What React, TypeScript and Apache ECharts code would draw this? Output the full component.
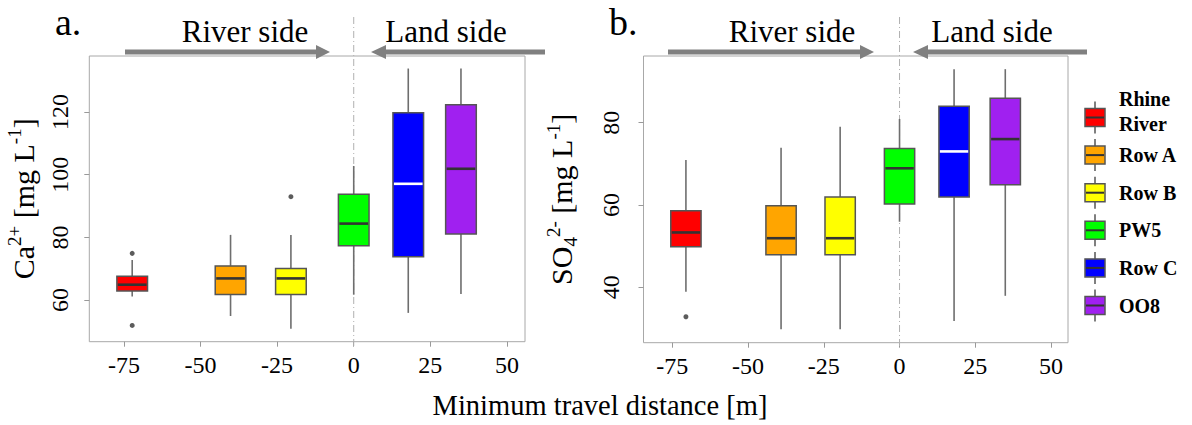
import React, { useEffect, useRef } from "react";
import * as echarts from "echarts";

// ---------- data ----------
const groups = ["Rhine River", "Row A", "Row B", "PW5", "Row C", "OO8"];
const legendLabels = ["Rhine\nRiver", "Row A", "Row B", "PW5", "Row C", "OO8"];
const boxColors = ["#FF0000", "#FFA500", "#FFFF00", "#00FF00", "#0000FF", "#A020F0"];
const medianColors = ["#333333", "#333333", "#333333", "#333333", "#FFFFFF", "#333333"];

// panel a: Ca2+
const caPositions = [-72.3, -40.2, -20.5, 0, 17.8, 35.0];
const caMin = [61.1, 54.9, 50.8, 61.7, 55.9, 61.9];
const caQ1 = [62.9, 61.8, 61.8, 77.3, 73.8, 81.1];
const caMedian = [64.9, 66.9, 66.9, 84.4, 97.1, 101.9];
const caQ3 = [67.6, 70.9, 70.1, 93.8, 119.8, 122.3];
const caMax = [72.8, 80.8, 80.8, 102.8, 133.9, 133.9];
const caOutlierGroup = [0, 0, 2];
const caOutlierValue = [74.9, 51.9, 93.0];

// panel b: SO4 2-
const so4Positions = [-70.5, -39.1, -19.6, 0, 18.0, 34.9];
const so4Min = [38.9, 29.8, 29.8, 55.9, 31.8, 37.9];
const so4Q1 = [49.8, 47.9, 47.9, 60.2, 61.9, 64.9];
const so4Median = [53.3, 51.9, 51.9, 68.9, 73.0, 76.0];
const so4Q3 = [58.6, 59.8, 61.9, 73.7, 84.0, 85.9];
const so4Max = [70.9, 73.9, 79.0, 80.9, 93.0, 93.0];
const so4OutlierGroup = [0];
const so4OutlierValue = [32.8];

// ticks
const xTicks = [-75, -50, -25, 0, 25, 50];
const caTicks = [60, 80, 100, 120];
const so4Ticks = [40, 60, 80];

// ---------- style constants ----------
const FONT = "Liberation Serif, Times New Roman, serif";
const BOX_WIDTH = 10;
const FRAME = "#a8a8a8";
const TICK = "#999999";
const ARROW = "#808080";

const tickRich = { t: { fontFamily: FONT, fontSize: 24, color: "#000" } };

function boxSeries(axisIndex: number, pos: number[], mn: number[], q1: number[], md: number[], q3: number[], mx: number[]) {
  return {
    type: "custom",
    xAxisIndex: axisIndex,
    yAxisIndex: axisIndex,
    silent: true,
    z: 3,
    encode: { x: 0, y: [1, 2, 3, 4, 5] },
    data: pos.map((p, i) => [p, mn[i], q1[i], md[i], q3[i], mx[i], i]),
    renderItem: (_params: any, api: any) => {
      const x = api.value(0);
      const idx = api.value(6);
      const pLo = api.coord([x, api.value(1)]);
      const pQ1 = api.coord([x, api.value(2)]);
      const pMed = api.coord([x, api.value(3)]);
      const pQ3 = api.coord([x, api.value(4)]);
      const pHi = api.coord([x, api.value(5)]);
      const w = api.size([BOX_WIDTH, 0])[0];
      const cx = pMed[0];
      const wh = { stroke: "#6e6e6e", lineWidth: 1.6 };
      return {
        type: "group",
        children: [
          { type: "line", shape: { x1: cx, y1: pLo[1], x2: cx, y2: pQ1[1] }, style: wh },
          { type: "line", shape: { x1: cx, y1: pQ3[1], x2: cx, y2: pHi[1] }, style: wh },
          {
            type: "rect",
            shape: { x: cx - w / 2, y: pQ3[1], width: w, height: pQ1[1] - pQ3[1] },
            style: { fill: boxColors[idx], stroke: "#555555", lineWidth: 1.5 },
          },
          {
            type: "line",
            shape: { x1: cx - w / 2 + 1, y1: pMed[1], x2: cx + w / 2 - 1, y2: pMed[1] },
            style: { stroke: medianColors[idx], lineWidth: 2.6 },
          },
        ],
      };
    },
  };
}

function outlierSeries(axisIndex: number, pos: number[], grp: number[], vals: number[]) {
  return {
    type: "scatter",
    xAxisIndex: axisIndex,
    yAxisIndex: axisIndex,
    silent: true,
    symbol: "circle",
    symbolSize: 5,
    itemStyle: { color: "#333333" },
    z: 4,
    data: grp.map((g, i) => [pos[g], vals[i]]),
  };
}

function xAxis(gi: number, min: number, max: number) {
  return {
    type: "value",
    gridIndex: gi,
    min,
    max,
    axisLine: { show: false, onZero: false },
    splitLine: { show: false },
    axisTick: { show: true, length: 5, lineStyle: { color: TICK, width: 1 }, customValues: xTicks },
    axisLabel: {
      customValues: xTicks,
      margin: 11,
      formatter: (v: number) => `{t|${v}}`,
      rich: tickRich,
    },
  };
}

const richBase = {
  a: { fontSize: 30, fontFamily: FONT, color: "#000", lineHeight: 36 },
  sup: { fontSize: 19, fontFamily: FONT, color: "#000", verticalAlign: "top", lineHeight: 20 },
  sub: { fontSize: 19, fontFamily: FONT, color: "#000", verticalAlign: "bottom", lineHeight: 20 },
};

function yAxis(gi: number, min: number, max: number, ticks: number[], name: string, nameGap: number, margin: number) {
  return {
    type: "value",
    gridIndex: gi,
    min,
    max,
    axisLine: { show: false, onZero: false },
    splitLine: { show: false },
    axisTick: { show: true, length: 5, lineStyle: { color: TICK, width: 1 }, customValues: ticks },
    axisLabel: {
      customValues: ticks,
      rotate: 90,
      margin,
      formatter: (v: number) => `{t|${v}}`,
      rich: tickRich,
    },
    name,
    nameLocation: "middle",
    nameRotate: 90,
    nameGap,
    nameTextStyle: { fontFamily: FONT, rich: richBase },
  };
}

function arrowRight(x1: number, xTip: number, y: number) {
  return [
    { type: "line", shape: { x1, y1: y, x2: xTip - 12, y2: y }, style: { stroke: ARROW, lineWidth: 5 } },
    { type: "polygon", shape: { points: [[xTip - 14, y - 7], [xTip, y], [xTip - 14, y + 7]] }, style: { fill: ARROW } },
  ];
}
function arrowLeft(xTip: number, x2: number, y: number) {
  return [
    { type: "line", shape: { x1: xTip + 12, y1: y, x2, y2: y }, style: { stroke: ARROW, lineWidth: 5 } },
    { type: "polygon", shape: { points: [[xTip + 15, y - 7], [xTip, y], [xTip + 15, y + 7]] }, style: { fill: ARROW } },
  ];
}

function headerText(text: string, x: number, y: number, size: number, align = "center") {
  return {
    type: "text",
    x,
    y,
    style: { text, fontSize: size, fontFamily: FONT, fill: "#000", align, verticalAlign: "middle" },
  };
}

export default function App() {
  const ref = useRef<HTMLDivElement>(null);
  useEffect(() => {
    if (!ref.current) return;
    const chart = echarts.init(ref.current, undefined, { renderer: "svg" });
    chart.setOption({
      animation: false,
      backgroundColor: "#ffffff",
      textStyle: { fontFamily: FONT },
      grid: [
        { left: 89.3, top: 56, width: 435.7, height: 285.7, show: true, borderColor: FRAME, borderWidth: 1, backgroundColor: "transparent" },
        { left: 643.5, top: 56, width: 424.5, height: 286.7, show: true, borderColor: FRAME, borderWidth: 1, backgroundColor: "transparent" },
      ],
      xAxis: [xAxis(0, -86.3, 55.9), xAxis(1, -84.5, 55.6)],
      yAxis: [
        yAxis(0, 46.7, 137.9, caTicks, "{a|Ca}{sup|2+}{a| [mg L}{sup|-1}{a|]}", 48, 17),
        yAxis(1, 26.5, 96.2, so4Ticks, "{a|SO}{sub|4}{sup|2-}{a| [mg L}{sup|-1}{a|]}", 64, 21),
      ],
      series: [
        boxSeries(0, caPositions, caMin, caQ1, caMedian, caQ3, caMax),
        outlierSeries(0, caPositions, caOutlierGroup, caOutlierValue),
        boxSeries(1, so4Positions, so4Min, so4Q1, so4Median, so4Q3, so4Max),
        outlierSeries(1, so4Positions, so4OutlierGroup, so4OutlierValue),
      ],
    });

    const x0a = chart.convertToPixel({ xAxisIndex: 0 }, 0) as number;
    const x0b = chart.convertToPixel({ xAxisIndex: 1 }, 0) as number;
    const dash = { stroke: "#b0b0b0", lineWidth: 1, lineDash: [7, 3, 1, 3] };

    const legendItems: any[] = [];
    const legendTop = 117.5;
    const legendStep = 37.6;
    groups.forEach((_g, i) => {
      const cy = legendTop + legendStep * i;
      const lines = legendLabels[i].split("\n").map((s) => `{b|${s}}`).join("\n");
      legendItems.push(
        { type: "line", shape: { x1: 1095, y1: cy - 16, x2: 1095, y2: cy + 16 }, style: { stroke: "#555", lineWidth: 1.5 } },
        { type: "rect", shape: { x: 1085, y: cy - 9, width: 20, height: 18 }, style: { fill: boxColors[i], stroke: "#555", lineWidth: 1.5 } },
        { type: "line", shape: { x1: 1086, y1: cy, x2: 1104, y2: cy }, style: { stroke: "#333", lineWidth: 2 } },
        {
          type: "text",
          x: 1119,
          y: i === 0 ? cy - 6.5 : cy,
          style: {
            text: lines,
            align: "left",
            verticalAlign: "middle",
            rich: {
              b: { fontSize: 20, fontWeight: "bold", fontFamily: FONT, fill: "#000", color: "#000", lineHeight: 25 },
            },
          },
        }
      );
    });

    chart.setOption({
      graphic: {
        elements: [
          { type: "line", shape: { x1: x0a, y1: 17, x2: x0a, y2: 348 }, style: dash, z: 1 },
          { type: "line", shape: { x1: x0b, y1: 17, x2: x0b, y2: 348 }, style: dash, z: 1 },
          ...arrowRight(125, 330, 52),
          ...arrowLeft(371, 545, 52),
          ...arrowRight(668, 874, 52),
          ...arrowLeft(913, 1087, 52),
          headerText("a.", 55, 22, 38, "left"),
          headerText("b.", 609, 22, 38, "left"),
          headerText("River side", 245, 31, 31),
          headerText("Land side", 446, 31, 31),
          headerText("River side", 792, 31, 31),
          headerText("Land side", 992, 31, 31),
          headerText("Minimum travel distance [m]", 600, 405, 28.5),
          ...legendItems,
        ],
      },
    });
    return () => chart.dispose();
  }, []);
  return <div ref={ref} style={{ position: "fixed", left: 0, top: 0, width: 1192, height: 425 }} />;
}
